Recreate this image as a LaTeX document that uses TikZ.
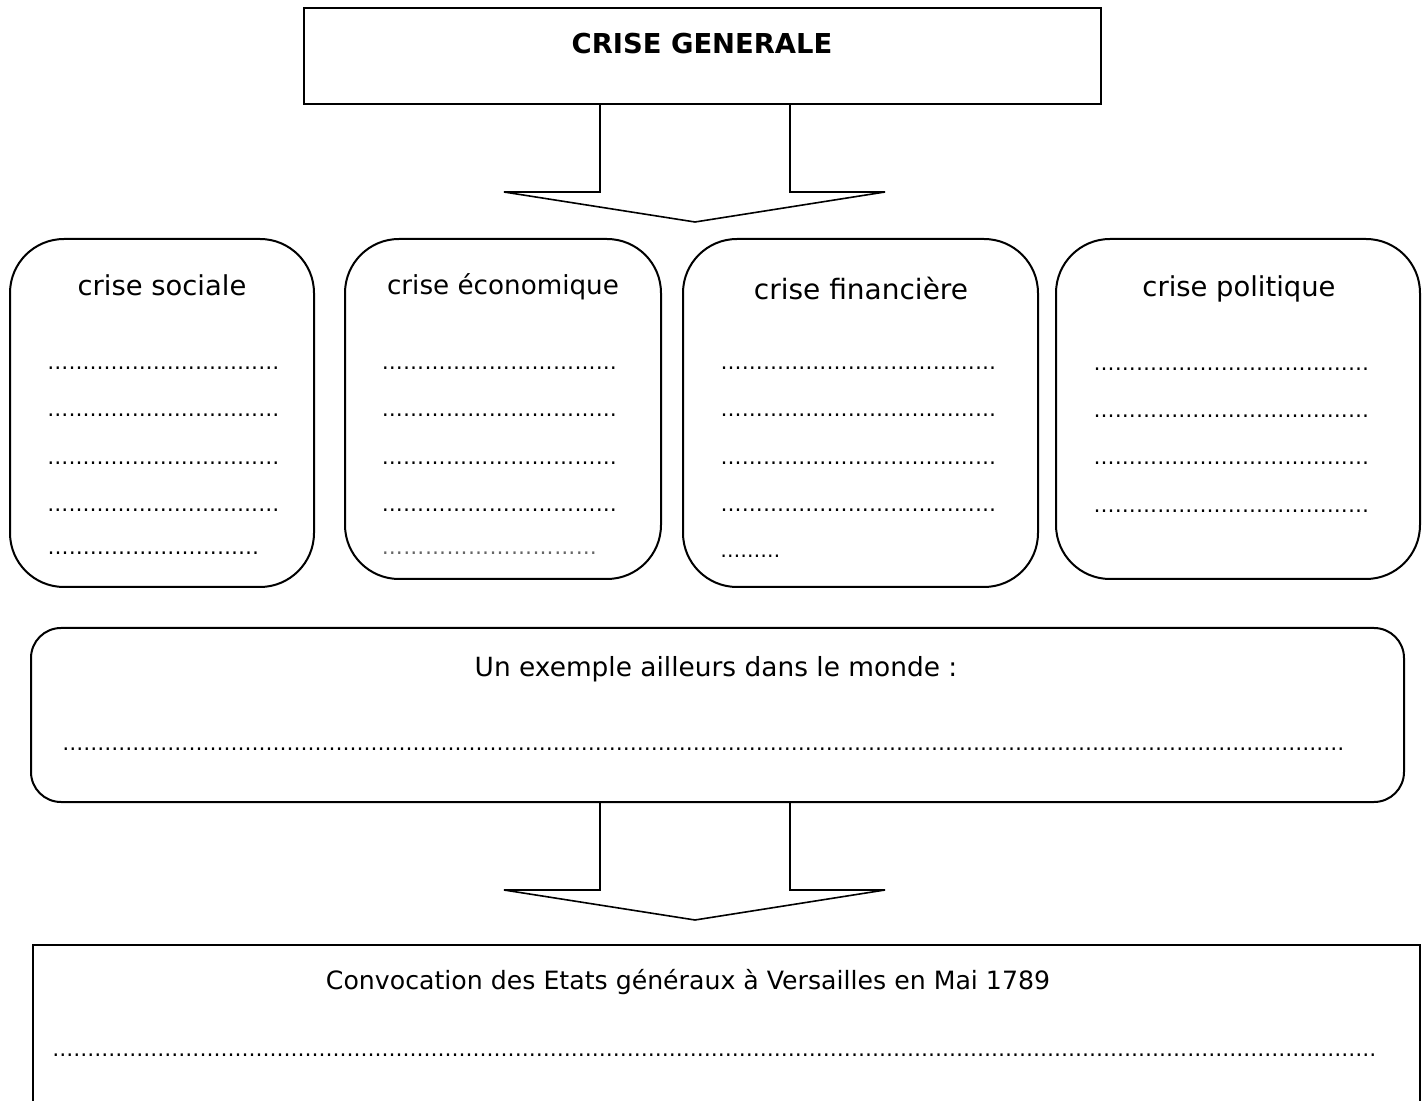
\documentclass[tikz,border=0pt]{standalone}
\usepackage{fontspec}
\setmainfont{DejaVu Sans}
\newcommand\dotrow[1]{\hbox to #1{\fontsize{10.5}{10}\selectfont\xleaders\hbox{…}\hfill}}
\newcommand\fs[1]{\fontsize{#1}{#1}\selectfont}
\tikzset{
  sqbox/.style={draw, line width=1pt, inner sep=0pt},
  rbox/.style={draw, line width=1pt, inner sep=0pt, rounded corners=27pt},
  wbox/.style={draw, line width=1pt, inner sep=0pt, rounded corners=15pt},
  title/.style={inner sep=0pt},
  dotsn/.style={anchor=west, inner sep=0pt},
  blockarrow/.style={draw, line width=0.8pt, line join=miter},
}
\begin{document}
\begin{tikzpicture}[x=0.5pt,y=-0.5pt]
\useasboundingbox (0,0) rectangle (1426,1101);
\clip (0,0) rectangle (1426,1101);
% top box
\node[sqbox, minimum width=398.5pt, minimum height=48pt] (top) at (702.5,56) {};
\node[title, font=\fs{13.7}\bfseries] (toptxt) at (702,44) {CRISE GENERALE};
% arrow 1
\coordinate (a1l) at (600,104);
\coordinate (a1r) at (790,104);
\draw[blockarrow] (a1l) -- (600,192) -- (504,192) -- (695,222) -- (885,192) -- (790,192) -- (a1r);
% four boxes
\node[rbox, minimum width=152pt, minimum height=174pt] (b1) at (162,413) {};
\node[rbox, minimum width=158pt, minimum height=170pt] (b2) at (503,409) {};
\node[rbox, minimum width=177.5pt, minimum height=174pt] (b3) at (860.5,413) {};
\node[rbox, minimum width=182pt, minimum height=170pt] (b4) at (1238,409) {};
\node[title, font=\fs{13.7}] (t1) at (162,285) {crise sociale};
\node[title, font=\fs{13.1}] (t2) at (503,287) {crise économique};
\node[title, font=\fs{14}] (t3) at (861,289) {crise financière};
\node[title, font=\fs{13.7}] (t4) at (1239,289) {crise politique};
% dotted lines box 1
\foreach \y/\n in {368/1,415/2,463/3,510/4}{\node[dotsn] (d1\n) at (47,\y) {\dotrow{116pt}};}
\node[dotsn] (d15) at (47,553) {\dotrow{106pt}};
% box 2
\foreach \y/\n in {368/1,415/2,463/3,510/4}{\node[dotsn] (d2\n) at (381,\y) {\dotrow{118pt}};}
\node[dotsn, opacity=0.6] (d25) at (381,553) {\dotrow{108pt}};
% box 3
\foreach \y/\n in {368/1,415/2,463/3,510/4}{\node[dotsn] (d3\n) at (720,\y) {\dotrow{138pt}};}
\node[dotsn, font=\fs{10}] (d35) at (720,556) {………};
% box 4
\foreach \y/\n in {369/1,416/2,463/3,511/4}{\node[dotsn] (d4\n) at (1093,\y) {\dotrow{138pt}};}
% wide box
\node[wbox, minimum width=686.5pt, minimum height=87pt] (wide) at (717.5,715) {};
\node[title, font=\fs{13.2}] (wt) at (716,669) {Un exemple ailleurs dans le monde :};
\node[dotsn] (wd) at (62,749) {\dotrow{641pt}};
% arrow 2
\coordinate (a2l) at (600,802);
\coordinate (a2r) at (790,802);
\draw[blockarrow] (a2l) -- (600,890) -- (504,890) -- (695,920) -- (885,890) -- (790,890) -- (a2r);
% bottom box
\node[sqbox, minimum width=693.5pt, minimum height=120pt] (bot) at (726.5,1065) {};
\node[title, font=\fs{12.6}] (bt) at (688,982) {Convocation des Etats généraux à Versailles en Mai 1789};
\node[dotsn] (bd) at (52,1055) {\dotrow{662pt}};
\end{tikzpicture}
\end{document}
